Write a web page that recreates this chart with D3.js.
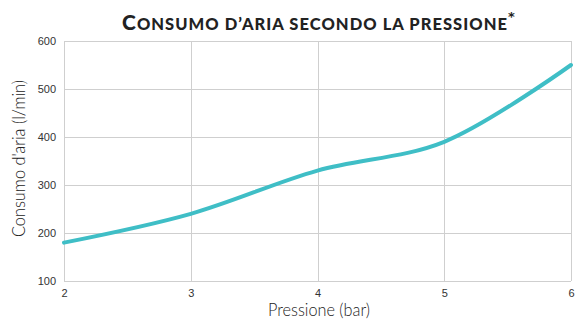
<!DOCTYPE html>
<html>
<head>
<meta charset="utf-8">
<script src="https://cdn.jsdelivr.net/npm/d3@7"></script>
<style>
  body { margin: 0; background: #fff; }
  svg { display: block; }
</style>
</head>
<body>
<svg id="chart" width="577" height="320"></svg>
<script>
// Air consumption (l/min) at each pressure (bar)
const pressure = [2, 3, 4, 5, 6];
const consumption = [180, 240, 330, 390, 550];
const xTicks = [2, 3, 4, 5, 6];
const yTicks = [100, 200, 300, 400, 500, 600];

const svg = d3.select("#chart");
const margin = { left: 64, right: 6, top: 41, bottom: 39 };
const W = 577, H = 320;

const x = d3.scaleLinear().domain([2, 6]).range([margin.left, W - margin.right]);
const y = d3.scaleLinear().domain([100, 600]).range([H - margin.bottom, margin.top]);

// grid
const grid = svg.append("g").attr("stroke", "#cfcfcf").attr("stroke-width", 1);
grid.selectAll("line.h").data(yTicks).join("line")
  .attr("x1", x(2)).attr("x2", x(6))
  .attr("y1", d => Math.round(y(d)) + 0.5).attr("y2", d => Math.round(y(d)) + 0.5);
grid.selectAll("line.v").data(xTicks).join("line")
  .attr("y1", y(100)).attr("y2", y(600))
  .attr("x1", d => Math.round(x(d)) + 0.5).attr("x2", d => Math.round(x(d)) + 0.5);

// tick labels
const tickFont = "'Liberation Sans', Arial, sans-serif";
const yAxis = d3.axisLeft(y).tickValues(yTicks).tickFormat(d3.format("d")).tickSize(0).tickPadding(8);
svg.append("g").attr("transform", `translate(${x(2)},0)`).call(yAxis)
  .call(g => g.select(".domain").remove())
  .selectAll("text").attr("font-family", tickFont)
  .attr("font-size", 11).attr("fill", "#333");

const xAxis = d3.axisBottom(x).tickValues(xTicks).tickFormat(d3.format("d")).tickSize(0).tickPadding(8);
svg.append("g").attr("transform", `translate(0,${y(100)})`).call(xAxis)
  .call(g => g.select(".domain").remove())
  .selectAll("text").attr("font-family", tickFont)
  .attr("font-size", 11).attr("fill", "#333");

// consumption curve
const data = pressure.map((p, i) => [p, consumption[i]]);
svg.append("path").datum(data)
  .attr("fill", "none")
  .attr("stroke", "#3fbec6")
  .attr("stroke-width", 4)
  .attr("stroke-linecap", "round")
  .attr("d", d3.line().x(d => x(d[0])).y(d => y(d[1])).curve(d3.curveCatmullRom.alpha(0.5)));

// axis titles
svg.append("text").attr("x", 268).attr("y", 316)
  .attr("font-family", "Lato, 'Open Sans', sans-serif")
  .attr("font-weight", 300).attr("font-size", 17).attr("fill", "#222")
  .attr("textLength", 102).attr("lengthAdjust", "spacingAndGlyphs")
  .text("Pressione (bar)");

svg.append("text").attr("transform", "translate(25,237) rotate(-90)")
  .attr("font-family", "Lato, 'Open Sans', sans-serif")
  .attr("font-weight", 300).attr("font-size", 17).attr("fill", "#222")
  .attr("textLength", 157).attr("lengthAdjust", "spacingAndGlyphs")
  .text("Consumo d'aria (l/min)");

// title in small capitals: leading capitals larger, remaining letters smaller uppercase
const titleWords = ["Consumo", "d’aria", "secondo", "la", "pressione"];
const title = svg.append("text").attr("x", 122).attr("y", 30)
  .attr("font-family", "Lato, 'Open Sans', sans-serif")
  .attr("font-weight", 900).attr("fill", "#222");
titleWords.forEach((w, i) => {
  const big = /^[A-Z]/.test(w);
  const prefix = i > 0 ? " " : "";
  if (big) {
    title.append("tspan").attr("font-size", 21).text(prefix + w[0]);
    title.append("tspan").attr("font-size", 16.5).text(w.slice(1).toUpperCase());
  } else {
    title.append("tspan").attr("font-size", 16.5).text(prefix + w.toUpperCase());
  }
});
title.attr("textLength", 385).attr("lengthAdjust", "spacing");
svg.append("text").attr("x", 508).attr("y", 21)
  .attr("font-family", "'DejaVu Sans', sans-serif")
  .attr("font-weight", 700).attr("font-size", 13).attr("fill", "#222")
  .text("*");
</script>
</body>
</html>
